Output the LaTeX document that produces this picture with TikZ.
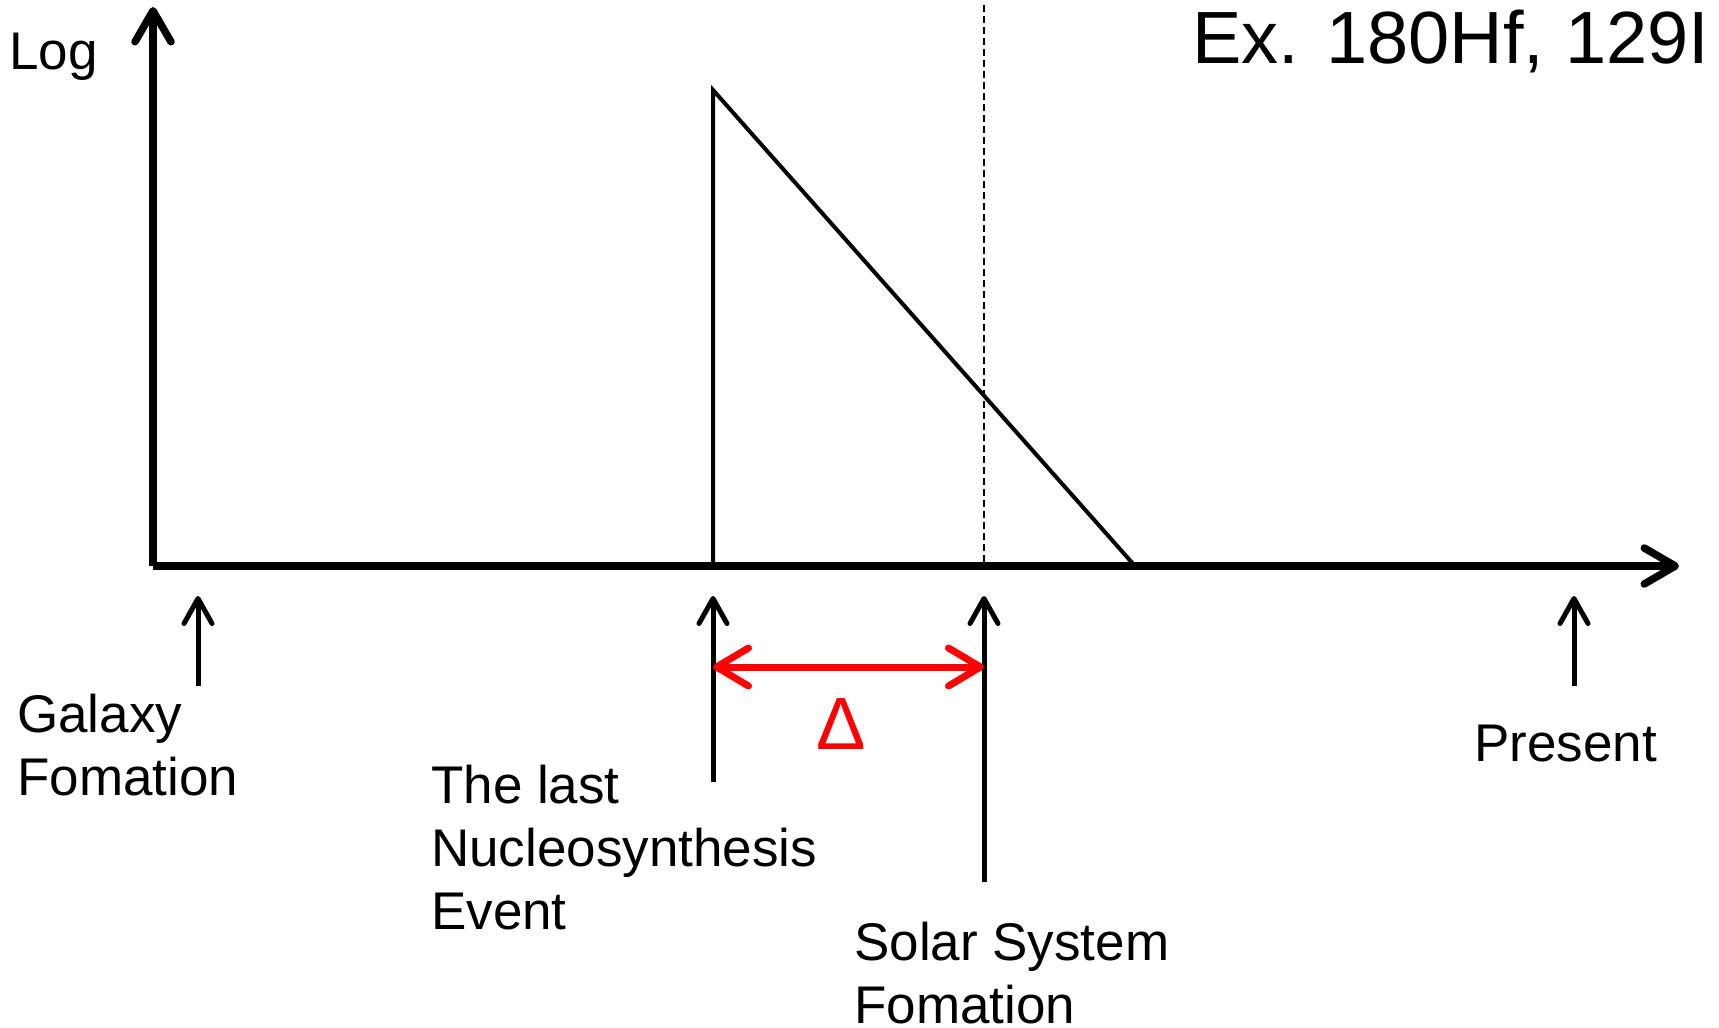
\documentclass[tikz,border=0pt]{standalone}
\usepackage{fontspec}
\setmainfont{Liberation Sans}
\usetikzlibrary{arrows.meta}
\begin{document}
\begin{tikzpicture}[x=1pt,y=-1pt,
  axis/.style={line width=7.5pt,-{Straight Barb[length=31pt,width=36pt,round]}},
  marker/.style={line width=5pt,-{Straight Barb[length=25pt,width=28pt,round]}},
  curve/.style={line width=4pt,line join=miter},
  guide/.style={line width=2pt,dash pattern=on 7pt off 4pt},
  delta/.style={line width=7pt,red,{Straight Barb[length=32pt,width=38pt,round]}-{Straight Barb[length=32pt,width=38pt,round]}},
  lbl/.style={inner sep=0pt,anchor=base west,align=left,font=\fontsize{53pt}{63pt}\selectfont},
  big/.style={inner sep=0pt,anchor=base west,font=\fontsize{74pt}{88pt}\selectfont}
]
\useasboundingbox (0,0) rectangle (1719,1028);
% coordinates
\coordinate (O) at (153,566);
\coordinate (ytop) at (153,7);
\coordinate (xend) at (1679,566);
\coordinate (sb) at (713,566);
\coordinate (st) at (713,90);
\coordinate (se) at (1135,566);
\coordinate (dt) at (984,5);
\coordinate (db) at (984,566);
\coordinate (gab) at (198,686);
\coordinate (gat) at (198,596);
\coordinate (nub) at (713,782);
\coordinate (nut) at (713,596);
\coordinate (ssb) at (984,882);
\coordinate (sst) at (984,596);
\coordinate (prb) at (1574,686);
\coordinate (prt) at (1574,596);
\coordinate (dl) at (713,667);
\coordinate (dr) at (984,667);
% axes
\draw[axis] (O) -- (ytop);
\draw[axis] (O) -- (xend);
% decay curve
\draw[curve] (sb) -- (st) -- (se);
\draw[guide] (dt) -- (db);
% markers
\draw[marker] (gab) -- (gat);
\draw[marker] (nub) -- (nut);
\draw[marker] (ssb) -- (sst);
\draw[marker] (prb) -- (prt);
\draw[delta] (dl) -- (dr);
% labels
\node[lbl] (log) at (9,69) {Log};
\node[big] (title) at (1192,63) {Ex. 180Hf, 129I};
\node[big,red,anchor=base] (dlt) at (841,749) {Δ};
\node[lbl] (gal) at (17,795) {Galaxy\\Fomation};
\node[lbl] (nuc) at (431,929) {The last\\Nucleosynthesis\\Event};
\node[lbl] (sol) at (854,1023) {Solar System\\Fomation};
\node[lbl] (pre) at (1474,761) {Present};
\end{tikzpicture}
\end{document}
